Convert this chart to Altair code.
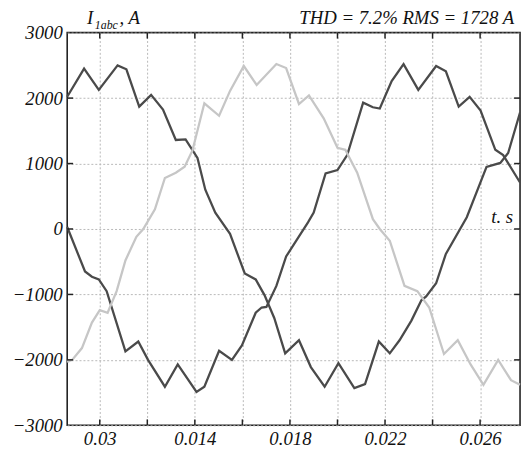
import altair as alt
import pandas as pd

# ---- data ----
t_a = [0.00863, 0.00934, 0.00996, 0.01075, 0.01112, 0.01166, 0.01216, 0.01266, 0.01320, 0.01361,
       0.01411, 0.01444, 0.01486, 0.01548, 0.01610, 0.01656, 0.01693, 0.01734, 0.01780, 0.01838,
       0.01888, 0.01946, 0.02004, 0.02071, 0.02116, 0.02174, 0.02220, 0.02261, 0.02311, 0.02353,
       0.02373, 0.02415, 0.02456, 0.02544, 0.02627, 0.02685, 0.02718, 0.02768]
i_a = [2020, 2450, 2125, 2500, 2440, 1870, 2050, 1825, 1360, 1370,
       1085, 600, 250, -75, -680, -770, -1010, -1360, -1900, -1700,
       -2110, -2410, -2050, -2430, -2370, -1720, -1900, -1700, -1400, -1090,
       -1030, -830, -380, 180, 950, 1010, 1160, 1780]

t_b = [0.00863, 0.00938, 0.00967, 0.00996, 0.01029, 0.01108, 0.01162, 0.01203, 0.01274, 0.01328,
       0.01407, 0.01440, 0.01502, 0.01556, 0.01598, 0.01656, 0.01681, 0.01701, 0.01743, 0.01784,
       0.01826, 0.01876, 0.01900, 0.01950, 0.02000, 0.02041, 0.02108, 0.02149, 0.02178, 0.02228,
       0.02278, 0.02340, 0.02415, 0.02456, 0.02510, 0.02556, 0.02602, 0.02664, 0.02697, 0.02768]
i_b = [30, -650, -730, -770, -950, -1870, -1720, -2000, -2410, -2070,
       -2490, -2410, -1860, -2000, -1780, -1280, -1200, -1190, -870, -420,
       -180, 100, 250, 850, 900, 1130, 1930, 1860, 1840, 2260,
       2520, 2125, 2490, 2410, 1870, 2020, 1810, 1210, 1130, 710]

t_c = [0.00863, 0.00884, 0.00925, 0.00967, 0.01000, 0.01033, 0.01071, 0.01108, 0.01154, 0.01183,
       0.01232, 0.01274, 0.01320, 0.01357, 0.01390, 0.01440, 0.01502, 0.01548, 0.01606, 0.01660,
       0.01743, 0.01784, 0.01838, 0.01880, 0.01942, 0.02000, 0.02033, 0.02083, 0.02149, 0.02178,
       0.02220, 0.02282, 0.02336, 0.02386, 0.02448, 0.02506, 0.02560, 0.02614, 0.02676, 0.02730,
       0.02768]
i_c = [-2030, -2000, -1820, -1430, -1240, -1280, -950, -480, -120, 0,
       300, 780, 860, 950, 1200, 1920, 1730, 2110, 2490, 2200,
       2520, 2460, 1910, 2040, 1690, 1240, 1210, 860, 150, 0,
       -180, -870, -950, -1200, -1910, -1700, -2070, -2380, -2000, -2310,
       -2380]

series_names = ["a", "b", "c"]
series_colors = ["#4a4a4a", "#4a4a4a", "#c6c6c6"]

x_grid = [0.010, 0.012, 0.014, 0.016, 0.018, 0.020, 0.022, 0.024, 0.026]
y_ticks = [-3000, -2000, -1000, 0, 1000, 2000, 3000]
x_domain = [0.00863, 0.02768]
y_domain = [-3000, 3000]

title_left_main = "I"
title_left_sub = "1abc"
title_left_tail = ", A"
title_right = "THD = 7.2% RMS = 1728 A"
x_label = "t. s"

W, H = 459, 398
FONT = "Liberation Serif"

rows = []
for name, ts, vs in [("a", t_a, i_a), ("b", t_b, i_b), ("c", t_c, i_c)]:
    for t, v in zip(ts, vs):
        rows.append({"t": t, "i": v, "s": name})
df = pd.DataFrame(rows)

xs = alt.Scale(domain=x_domain, nice=False, zero=False)
ys = alt.Scale(domain=y_domain, nice=False, zero=False)

label_expr = ("round(datum.value*1000)==10 ? '0.03' : "
              "(round(datum.value*1000)%4==0 ? '' : format(datum.value,'.3f'))")

lines = alt.Chart(df).mark_line(strokeWidth=2.3).encode(
    x=alt.X("t:Q", scale=xs, title=None,
            axis=alt.Axis(values=x_grid, labelExpr=label_expr, grid=True,
                          gridDash=[2, 2], gridColor="#b8b8b8", gridWidth=1,
                          ticks=False, domain=False, labelFont=FONT,
                          labelFontStyle="italic", labelFontSize=19,
                          labelColor="#111", labelPadding=4)),
    y=alt.Y("i:Q", scale=ys, title=None,
            axis=alt.Axis(values=y_ticks, format="d", grid=True, gridDash=[2, 2],
                          gridColor="#b8b8b8", gridWidth=1, ticks=False,
                          domain=False, labelFont=FONT, labelFontStyle="italic",
                          labelFontSize=19, labelColor="#111", labelPadding=5)),
    color=alt.Color("s:N", scale=alt.Scale(domain=series_names, range=series_colors),
                    legend=None),
)

xt = pd.DataFrame({"t": x_grid})
yt = pd.DataFrame({"i": y_ticks[1:-1]})

bottom_ticks = alt.Chart(xt).mark_rule(color="#222", strokeWidth=1.5).encode(
    x=alt.X("t:Q", scale=xs), y=alt.value(H), y2=alt.value(H - 6))
top_ticks = alt.Chart(xt).mark_rule(color="#222", strokeWidth=1.5).encode(
    x=alt.X("t:Q", scale=xs), y=alt.value(0), y2=alt.value(6))
left_ticks = alt.Chart(yt).mark_rule(color="#222", strokeWidth=1.5).encode(
    y=alt.Y("i:Q", scale=ys), x=alt.value(0), x2=alt.value(6))
right_ticks = alt.Chart(yt).mark_rule(color="#222", strokeWidth=1.5).encode(
    y=alt.Y("i:Q", scale=ys), x=alt.value(W), x2=alt.value(W - 6))

def txt(s, x, y, size, align="left"):
    return alt.Chart(pd.DataFrame({"s": [s]})).mark_text(
        font=FONT, fontStyle="italic", fontSize=size, align=align,
        baseline="alphabetic", color="#111").encode(
        text="s:N", x=alt.value(x), y=alt.value(y))

texts = (txt(title_left_main, 20, -9, 19) + txt(title_left_sub, 28, -4, 12)
         + txt(title_left_tail, 53, -9, 19)
         + txt(title_right, 453, -9, 19, "right")
         + txt(x_label, 452, 193, 19, "right"))

chart = alt.layer(lines, bottom_ticks, top_ticks, left_ticks, right_ticks, texts).properties(
    width=W, height=H,
    autosize=alt.AutoSizeParams(type="none"),
    padding={"left": 60, "top": 22, "right": 3, "bottom": 20},
).configure(font=FONT).configure_view(stroke="#222", strokeWidth=1.6)

chart.save("out.html", embed_options={"renderer": "svg", "actions": False})
